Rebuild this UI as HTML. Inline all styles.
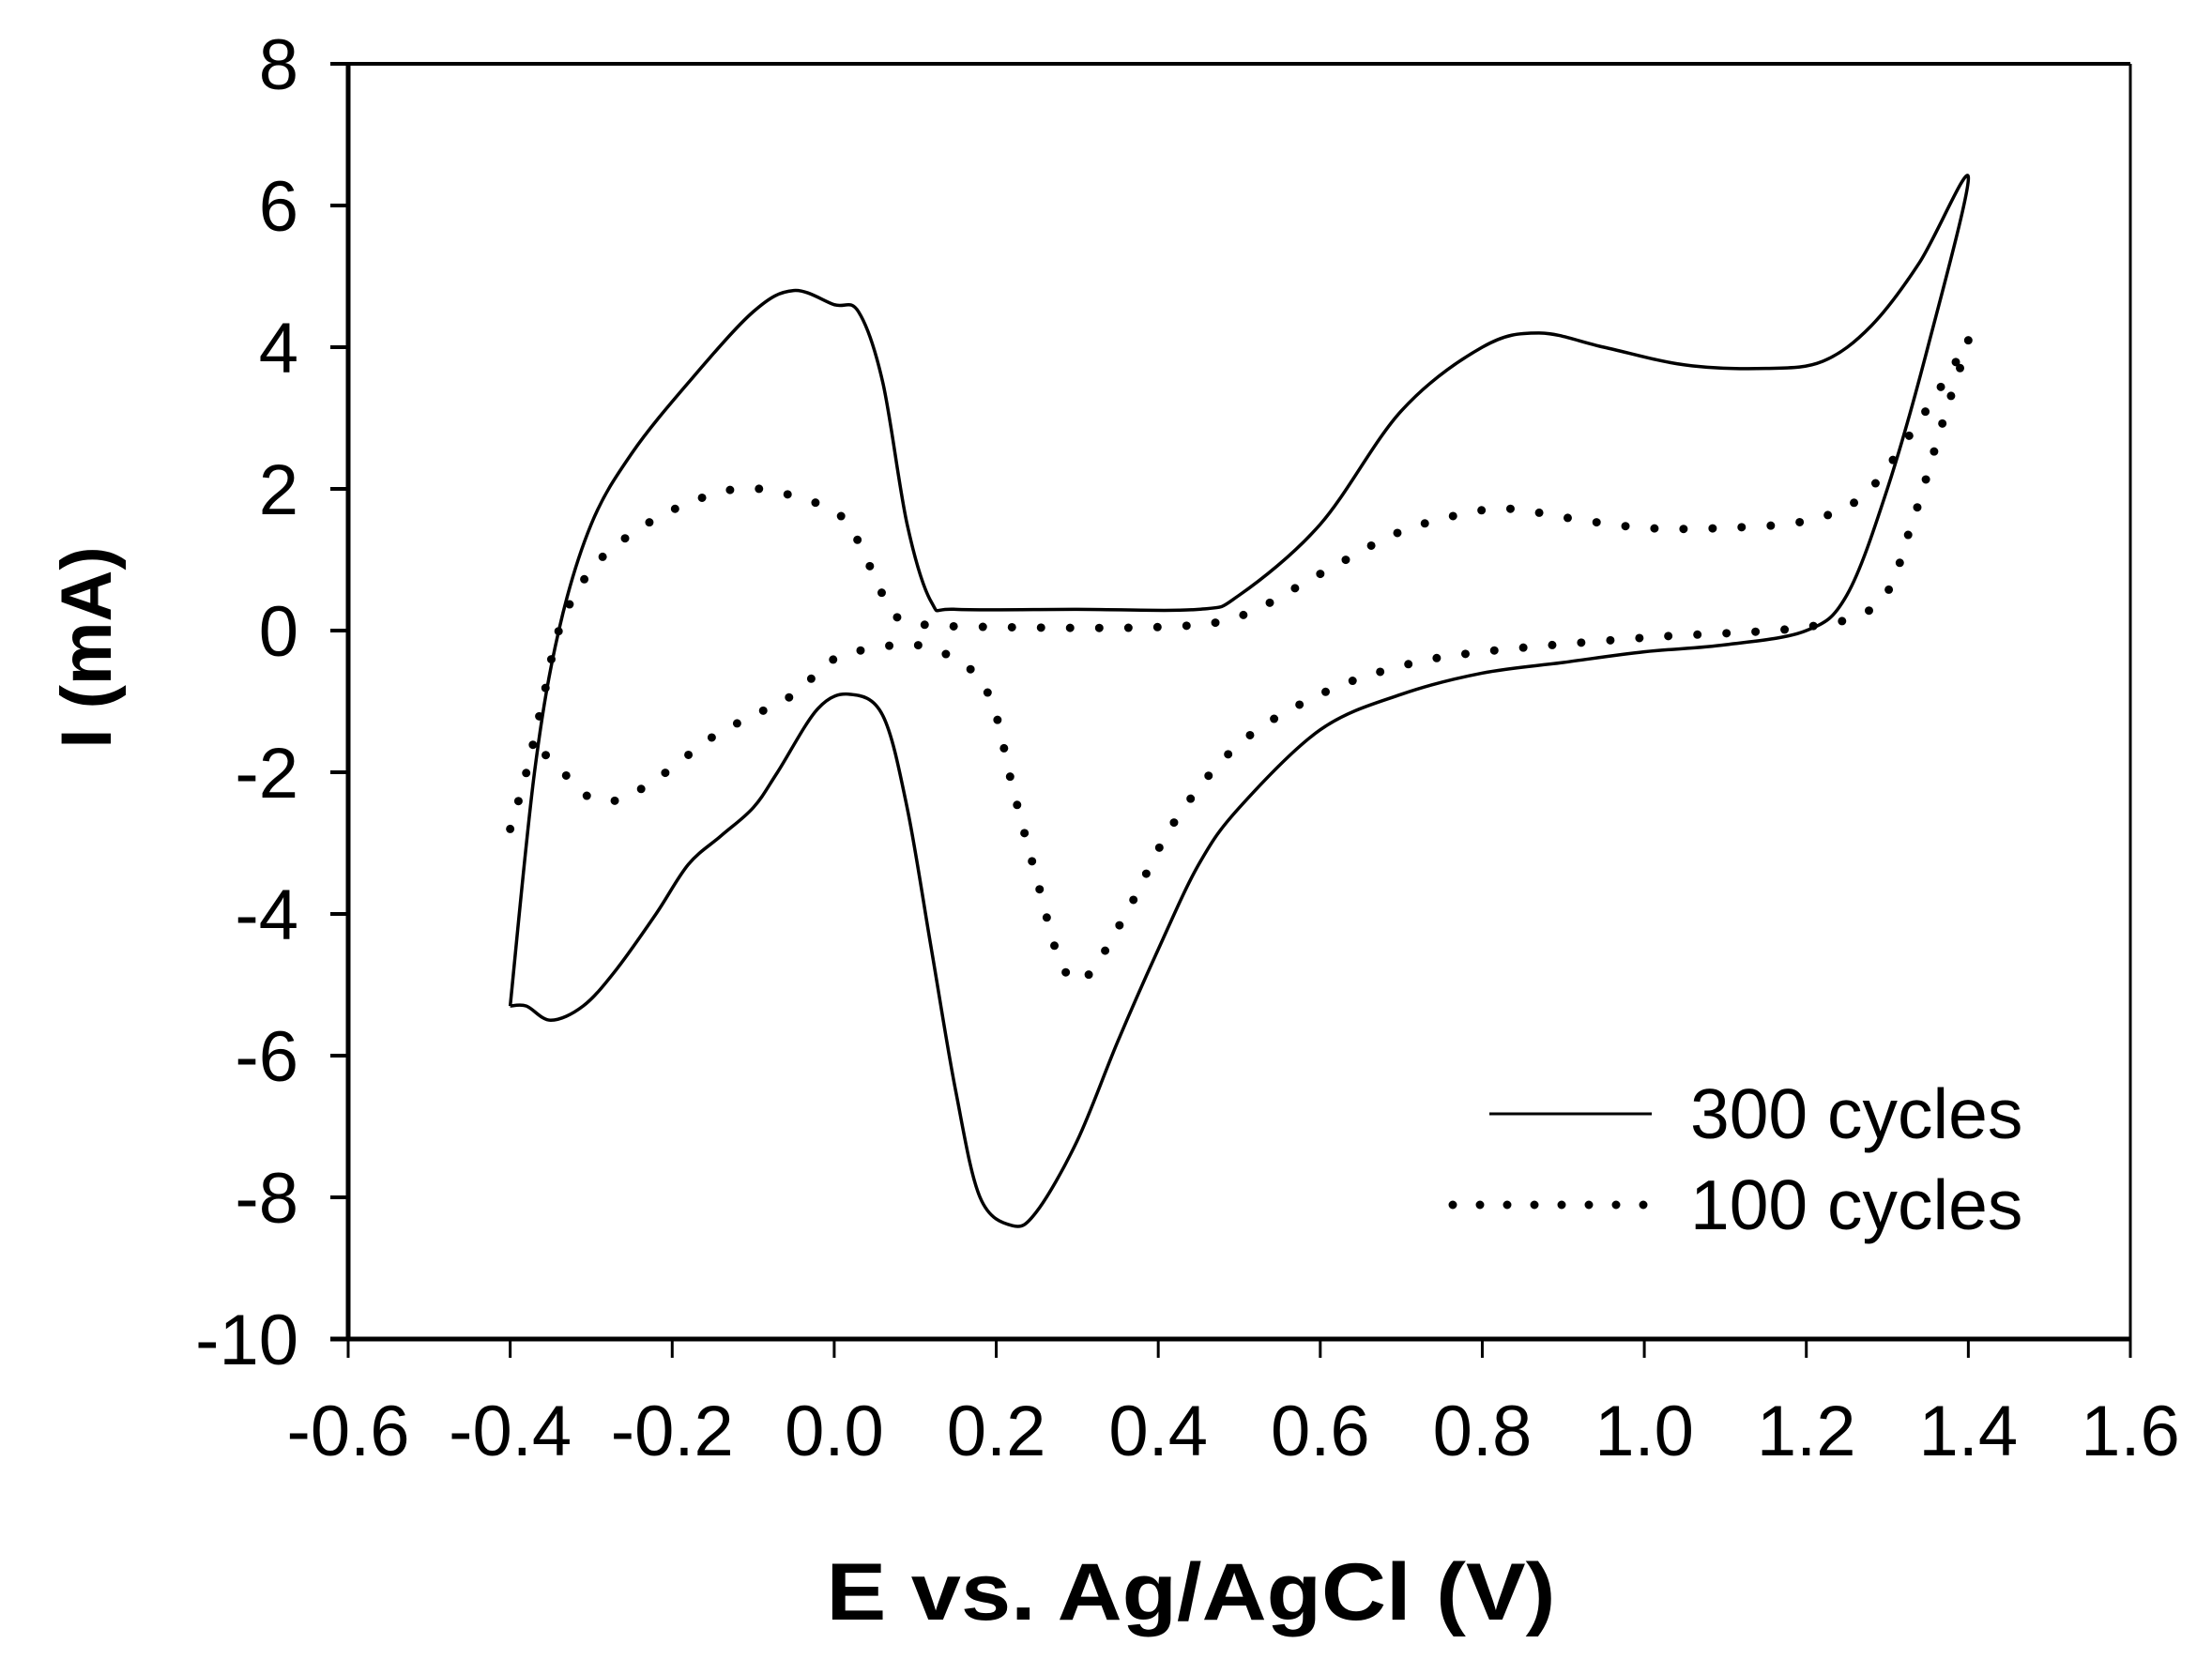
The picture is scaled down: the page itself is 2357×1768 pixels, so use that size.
<!DOCTYPE html>
<html><head><meta charset="utf-8"><style>
html,body{margin:0;padding:0;background:#fff;}
svg{display:block;font-family:"Liberation Sans",Arial,sans-serif;}
</style></head><body>
<svg id="chart" width="2357" height="1768" viewBox="0 0 2357 1768" xmlns="http://www.w3.org/2000/svg">
<rect width="2357" height="1768" fill="#fff"/>
<g id="axes"></g>
<g id="series"></g>
<g id="legend">
  <line x1="1587" y1="1187" x2="1760" y2="1187" stroke="#000" stroke-width="3"/>
  <text x="1801" y="1213" font-size="75">300 cycles</text>
  <line x1="1548" y1="1284" x2="1752" y2="1284" stroke="#000" stroke-width="9" stroke-linecap="round" stroke-dasharray="0 29"/>
  <text x="1801" y="1310" font-size="75">100 cycles</text>
</g>
<text x="1269" y="1726" font-size="86" font-weight="bold" text-anchor="middle" textLength="777" lengthAdjust="spacingAndGlyphs">E vs. Ag/AgCl (V)</text>
<text transform="translate(118,690) rotate(-90)" font-size="76" font-weight="bold" text-anchor="middle">I (mA)</text>
</svg>
<script>
const xTicks = [-0.6,-0.4,-0.2,0.0,0.2,0.4,0.6,0.8,1.0,1.2,1.4,1.6];
const yTicks = [8,6,4,2,0,-2,-4,-6,-8,-10];
const e300 = [-0.4,-0.37,-0.34,-0.3,-0.25,-0.18,-0.1,-0.05,0.0,0.03,0.06,0.09,0.12,0.15,0.3,0.45,0.5,0.6,0.7,0.8,0.87,0.95,1.05,1.15,1.22,1.28,1.34,1.4,
  1.35,1.3,1.25,1.2,1.1,1.0,0.9,0.8,0.7,0.6,0.5,0.45,0.4,0.35,0.3,0.25,0.22,0.18,0.15,0.12,0.09,0.06,0.02,-0.02,-0.07,-0.1,-0.14,-0.18,-0.22,-0.27,-0.31,-0.35,-0.38,-0.4];
const i300 = [-5.3,-2,0,1.5,2.5,3.5,4.5,4.8,4.6,4.5,3.5,1.5,0.4,0.3,0.3,0.3,0.5,1.5,3.1,4.0,4.2,4.0,3.75,3.7,3.8,4.3,5.2,6.4,
  4,2,0.5,0.0,-0.2,-0.3,-0.45,-0.6,-0.9,-1.4,-2.5,-3.3,-4.5,-5.8,-7.2,-8.2,-8.4,-8.0,-6.5,-4.5,-2.5,-1.2,-0.9,-1.1,-2,-2.5,-2.9,-3.3,-4,-4.8,-5.3,-5.5,-5.3,-5.3];
const e100 = [-0.4,-0.38,-0.36,-0.34,-0.31,-0.27,-0.2,-0.12,-0.05,0.01,0.04,0.07,0.1,0.2,0.4,0.5,0.6,0.7,0.8,0.85,0.9,1.0,1.1,1.2,1.27,1.33,1.38,1.4,
  1.37,1.33,1.29,1.2,1.0,0.8,0.7,0.6,0.5,0.42,0.36,0.31,0.28,0.25,0.22,0.2,0.18,0.15,0.1,0.05,0.0,-0.05,-0.1,-0.15,-0.22,-0.27,-0.31,-0.35,-0.38];
const i100 = [-2.8,-2,-1,0,0.7,1.2,1.7,2.0,1.9,1.6,1.0,0.3,0.1,0.05,0.05,0.2,0.8,1.4,1.7,1.7,1.6,1.45,1.45,1.55,1.9,2.8,3.7,4.1,
  3,1.5,0.4,0.05,-0.1,-0.3,-0.5,-0.9,-1.6,-2.7,-4.0,-4.9,-4.7,-3.5,-2.2,-1.2,-0.7,-0.4,-0.2,-0.25,-0.4,-0.9,-1.2,-1.5,-2.1,-2.4,-2.3,-1.8,-1.7];

const L=371,R=2270,T=68,B=1427;
function xs(v){return L+(v+0.6)/2.2*(R-L);}
function ys(v){return T+(8-v)/18*(B-T);}
const NS="http://www.w3.org/2000/svg";
function mk(tag,attrs,parent){const el=document.createElementNS(NS,tag);for(const k in attrs)el.setAttribute(k,attrs[k]);parent.appendChild(el);return el;}
const axes=document.getElementById('axes');
let el;
el=mk('line',{x1:352,y1:T,x2:R,y2:T,stroke:'#000','stroke-width':4},axes);


el=mk('line',{x1:R,y1:T,x2:R,y2:B,stroke:'#000','stroke-width':3},axes);


el=mk('line',{x1:L,y1:T,x2:L,y2:B+2,stroke:'#000','stroke-width':5},axes);


el=mk('line',{x1:352,y1:B,x2:R,y2:B,stroke:'#000','stroke-width':5},axes);


xTicks.forEach(t=>{
  const x=xs(t);
  let tk=mk('line',{x1:x,y1:B,x2:x,y2:B+20,stroke:'#000','stroke-width':3},axes);
  
  
  let tx=mk('text',{x:x,y:1551,'font-size':76,'text-anchor':'middle'},axes);
  tx.textContent=t.toFixed(1);
  
  
});
yTicks.forEach(t=>{
  const y=ys(t);
  let tk=mk('line',{x1:352,y1:y,x2:L,y2:y,stroke:'#000','stroke-width':4},axes);
  
  
  let tx=mk('text',{x:318,y:y+27,'font-size':76,'text-anchor':'end'},axes);
  tx.textContent=String(t);
  
  
});
function pathFrom(E,I){
  const p=E.map((e,k)=>[xs(e),ys(I[k])]);
  let d='M'+p[0][0]+','+p[0][1];
  for(let k=0;k<p.length-1;k++){
    const p0=p[Math.max(0,k-1)],p1=p[k],p2=p[k+1],p3=p[Math.min(p.length-1,k+2)];
    const c1=[p1[0]+(p2[0]-p0[0])/6,p1[1]+(p2[1]-p0[1])/6];
    const c2=[p2[0]-(p3[0]-p1[0])/6,p2[1]-(p3[1]-p1[1])/6];
    d+=' C'+c1[0]+','+c1[1]+' '+c2[0]+','+c2[1]+' '+p2[0]+','+p2[1];
  }
  return d;
}
const series=document.getElementById('series');
el=mk('path',{d:pathFrom(e300,i300),fill:'none',stroke:'#000','stroke-width':3.5,'stroke-linejoin':'round'},series);


el=mk('path',{d:pathFrom(e100,i100),fill:'none',stroke:'#000','stroke-width':9,'stroke-linecap':'round','stroke-dasharray':'0 31'},series);


</script>
</body></html>
